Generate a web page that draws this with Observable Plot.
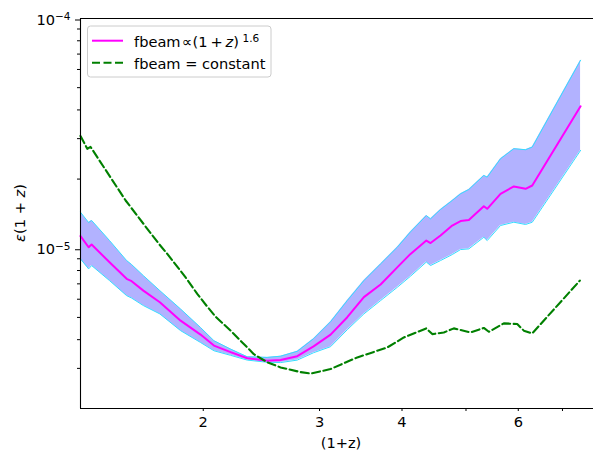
<!DOCTYPE html>
<html><head><meta charset="utf-8">
<script src="https://cdn.jsdelivr.net/npm/d3@7"></script>
<script src="https://cdn.jsdelivr.net/npm/@observablehq/plot@0.6"></script>
<style>
html,body{margin:0;padding:0;background:#fff;}
#chart{width:593px;height:452px;overflow:hidden;}
</style></head><body><div id="chart"></div>
<script>
// (1+z) grid for the fbeam ∝ (1+z)^1.6 curve and its band
const zBand = [1.3035, 1.341, 1.355, 1.4425, 1.531, 1.558, 1.623, 1.719, 1.848, 1.981, 2.076, 2.200, 2.332, 2.500, 2.619, 2.776, 2.9385, 3.118, 3.305, 3.502, 3.712, 3.934, 4.121, 4.354, 4.419, 4.575, 4.766, 4.906, 5.050, 5.321, 5.384, 5.640, 5.908, 6.155, 6.300, 7.456];
const epsMid = [1.13e-5, 1.010e-5, 1.038e-5, 8.69e-6, 7.36e-6, 7.19e-6, 6.54e-6, 5.82e-6, 4.84e-6, 4.21e-6, 3.77e-6, 3.53e-6, 3.32e-6, 3.24e-6, 3.26e-6, 3.39e-6, 3.74e-6, 4.21e-6, 5.01e-6, 6.13e-6, 6.95e-6, 8.26e-6, 9.45e-6, 1.080e-5, 1.054e-5, 1.136e-5, 1.256e-5, 1.314e-5, 1.327e-5, 1.524e-5, 1.485e-5, 1.726e-5, 1.858e-5, 1.815e-5, 1.876e-5, 4.147e-5];
const epsHi = [1.435e-5, 1.294e-5, 1.321e-5, 1.080e-5, 8.84e-6, 8.49e-6, 7.60e-6, 6.54e-6, 5.44e-6, 4.52e-6, 3.96e-6, 3.64e-6, 3.37e-6, 3.35e-6, 3.39e-6, 3.56e-6, 4.04e-6, 4.79e-6, 5.92e-6, 7.23e-6, 8.55e-6, 1.010e-5, 1.179e-5, 1.388e-5, 1.343e-5, 1.475e-5, 1.614e-5, 1.726e-5, 1.803e-5, 2.075e-5, 2.040e-5, 2.453e-5, 2.713e-5, 2.685e-5, 2.756e-5, 6.58e-5];
const epsLo = [8.99e-6, 8.13e-6, 8.41e-6, 7.23e-6, 6.22e-6, 6.07e-6, 5.63e-6, 5.18e-6, 4.38e-6, 3.89e-6, 3.58e-6, 3.42e-6, 3.26e-6, 3.19e-6, 3.18e-6, 3.26e-6, 3.51e-6, 3.73e-6, 4.42e-6, 5.18e-6, 5.92e-6, 6.76e-6, 7.56e-6, 8.71e-6, 8.41e-6, 8.84e-6, 9.39e-6, 9.87e-6, 9.94e-6, 1.117e-5, 1.080e-5, 1.256e-5, 1.298e-5, 1.269e-5, 1.298e-5, 2.667e-5];

// fbeam = constant curve
const zConst = [1.3035, 1.3347, 1.3502, 1.5257, 1.6454, 1.7134, 1.7643, 1.8806, 1.9586, 2.0281, 2.0877, 2.2000, 2.3859, 2.5000, 2.6189, 2.8083, 2.9080, 3.1180, 3.4221, 3.7994, 4.0259, 4.3535, 4.4452, 4.6283, 4.7925, 5.0800, 5.3208, 5.4145, 5.7053, 5.9782, 6.1174, 6.3000, 7.4376];
const epsConst = [3.08e-5, 2.71e-5, 2.76e-5, 1.614e-5, 1.215e-5, 1.045e-5, 9.45e-6, 7.47e-6, 6.33e-6, 5.57e-6, 5.04e-6, 4.38e-6, 3.46e-6, 3.19e-6, 3.03e-6, 2.89e-6, 2.85e-6, 2.98e-6, 3.35e-6, 3.70e-6, 4.09e-6, 4.48e-6, 4.23e-6, 4.30e-6, 4.48e-6, 4.30e-6, 4.50e-6, 4.33e-6, 4.71e-6, 4.68e-6, 4.38e-6, 4.26e-6, 7.23e-6];

// ticks
const xTicks = [2, 3, 4, 5, 6, 7];
const xTickLabels = ["2", "3", "4", "", "6", ""];
const yMajorTicks = [1e-5, 1e-4];
const yMajorLabels = ["10^\u22125", "10^\u22124"];
const yMinorTicks = [3e-6, 4e-6, 5e-6, 6e-6, 7e-6, 8e-6, 9e-6, 2e-5, 3e-5, 4e-5, 5e-5, 6e-5, 7e-5, 8e-5, 9e-5];

const xDomain = [1.3035, 7.80];
const yDomain = [2.007e-6, 1e-4];

const band = zBand.map((x, i) => ({x, mid: epsMid[i], hi: epsHi[i], lo: epsLo[i]}));
const cst = zConst.map((x, i) => ({x, y: epsConst[i]}));
const dash = "8,3.5";
const FS = 14.6;

const chart = Plot.plot({
  width: 593, height: 452,
  marginLeft: 80, marginRight: 0, marginTop: 18, marginBottom: 44,
  style: {fontFamily: "'DejaVu Sans', sans-serif", fontSize: FS + "px", color: "#000", background: "#fff", overflow: "visible"},
  x: {type: "log", domain: xDomain, label: null},
  y: {type: "log", domain: yDomain, label: null},
  marks: [
    Plot.areaY(band, {x: "x", y1: "lo", y2: "hi", fill: "#0000ff", fillOpacity: 0.3}),
    Plot.line(band, {x: "x", y: "hi", stroke: "#33ddff", strokeWidth: 1}),
    Plot.line(band, {x: "x", y: "lo", stroke: "#33ddff", strokeWidth: 1}),
    Plot.line(band, {x: "x", y: "mid", stroke: "#ff00ff", strokeWidth: 2}),
    Plot.line(cst, {x: "x", y: "y", stroke: "#008000", strokeWidth: 2.1, strokeDasharray: dash}),
    Plot.ruleX([xDomain[0]], {stroke: "#000", strokeWidth: 1.1}),
    Plot.ruleY([yDomain[0], yDomain[1]], {stroke: "#000", strokeWidth: 1.1}),
    Plot.axisX({ticks: xTicks, tickFormat: d => xTickLabels[xTicks.indexOf(d)], tickSize: 3, tickPadding: 5, label: null}),
    Plot.axisY({ticks: yMajorTicks, tickFormat: d => yMajorLabels[yMajorTicks.indexOf(d)], tickSize: 5, tickPadding: 5, dy: 1.5, label: null}),
    Plot.axisY({ticks: yMinorTicks, tickFormat: () => "", tickSize: 3, label: null})
  ]
});
document.getElementById("chart").appendChild(chart);

const svg = d3.select(chart);
// superscript exponents on y tick labels
svg.selectAll('g[aria-label="y-axis tick label"] text').each(function () {
  const t = this.textContent;
  const parts = t.split("^");
  if (parts.length === 2) {
    const s = d3.select(this);
    s.text(parts[0]);
    s.append("tspan").attr("dy", "-0.45em").attr("font-size", "72%").text(parts[1]);
  }
});

// axis titles
const ylab = svg.append("text").attr("transform", "translate(25,213) rotate(-90)")
  .attr("text-anchor", "middle").attr("font-size", FS).attr("fill", "#000");
ylab.append("tspan").attr("font-style", "italic").text("\u03b5");
ylab.append("tspan").text("(1 + ");
ylab.append("tspan").attr("font-style", "italic").text("z");
ylab.append("tspan").text(")");

svg.append("text").attr("x", 341).attr("y", 448).attr("text-anchor", "middle")
  .attr("font-size", FS).attr("fill", "#000").text("(1+z)");

// legend
const lg = svg.append("g").attr("text-anchor", "start");
lg.append("rect").attr("x", 87.5).attr("y", 26).attr("width", 183.5).attr("height", 51)
  .attr("rx", 3).attr("fill", "#fff").attr("fill-opacity", 0.8).attr("stroke", "#cccccc").attr("stroke-width", 1);
lg.append("line").attr("x1", 92).attr("x2", 123).attr("y1", 40.7).attr("y2", 40.7)
  .attr("stroke", "#ff00ff").attr("stroke-width", 2);
lg.append("line").attr("x1", 92).attr("x2", 123).attr("y1", 62.7).attr("y2", 62.7)
  .attr("stroke", "#008000").attr("stroke-width", 2.1).attr("stroke-dasharray", dash);
const t1 = lg.append("text").attr("y", 47).attr("font-size", FS).attr("fill", "#000").attr("text-anchor", "start");
t1.append("tspan").attr("x", 134).text("fbeam");
t1.append("tspan").attr("x", 182).text("\u221d");
t1.append("tspan").attr("x", 192.5).text("(1\u2009+\u2009");
t1.append("tspan").attr("font-style", "italic").text("z");
t1.append("tspan").text(")");
t1.append("tspan").attr("x", 242.5).attr("dy", "-0.45em").attr("font-size", "72%").text("1.6");
lg.append("text").attr("x", 134).attr("y", 69).attr("font-size", FS).attr("fill", "#000")
  .attr("text-anchor", "start").text("fbeam = constant");
</script></body></html>
